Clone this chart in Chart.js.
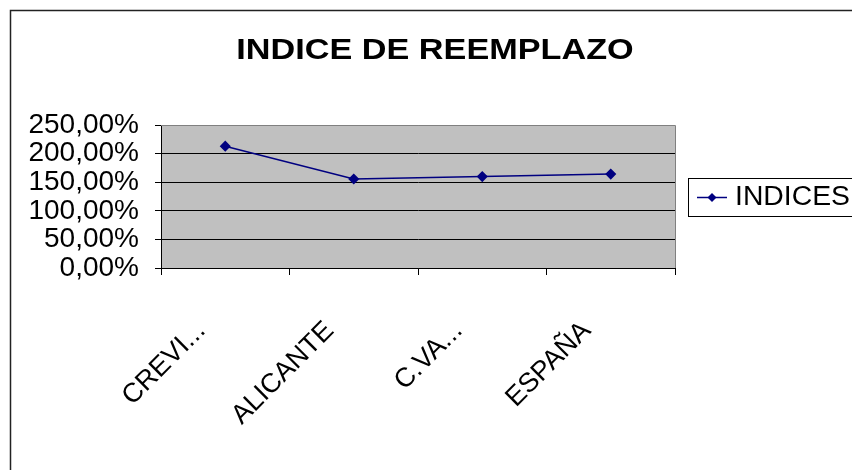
<!DOCTYPE html>
<html><head><meta charset="utf-8">
<script src="https://cdn.jsdelivr.net/npm/chart.js@4"></script>
<style>html,body{margin:0;padding:0;background:#fff}canvas{display:block}</style>
</head><body>
<canvas id="c" width="852" height="470"></canvas>
<script>
const chartTitle = 'INDICE DE REEMPLAZO';
const categories = ['CREVI...', 'ALICANTE', 'C.VA...', 'ESPAÑA'];
const seriesName = 'INDICES';
const indices = [213, 155.5, 159.8, 164.2];
const yTicks = [0, 50, 100, 150, 200, 250];

const FONT = '"Liberation Sans", Arial, sans-serif';
const LINE = '#000080';

const decor = {
  id: 'decor',
  beforeDraw(chart) {
    const {ctx, chartArea: a} = chart;
    ctx.save();
    ctx.fillStyle = '#fff';
    ctx.fillRect(0, 0, chart.width, chart.height);
    ctx.fillStyle = '#C0C0C0';
    ctx.fillRect(a.left, a.top, a.right - a.left, a.bottom - a.top);
    ctx.strokeStyle = '#222';
    ctx.lineWidth = 1.5;
    ctx.beginPath();
    ctx.moveTo(10.5, chart.height + 2);
    ctx.lineTo(10.5, 10.5);
    ctx.lineTo(chart.width + 2, 10.5);
    ctx.stroke();
    ctx.restore();
  },
  beforeDatasetsDraw(chart) {
    const {ctx, chartArea: a} = chart;
    ctx.save();
    ctx.strokeStyle = '#808080';
    ctx.lineWidth = 1;
    ctx.beginPath();
    ctx.moveTo(a.left, Math.round(a.top) + 0.5);
    ctx.lineTo(Math.round(a.right) + 0.5, Math.round(a.top) + 0.5);
    ctx.lineTo(Math.round(a.right) + 0.5, a.bottom);
    ctx.stroke();
    ctx.restore();
  },
  afterDraw(chart) {
    const ctx = chart.ctx;
    // title
    ctx.save();
    ctx.font = 'bold 29px ' + FONT;
    ctx.fillStyle = '#000';
    ctx.textAlign = 'center';
    ctx.textBaseline = 'alphabetic';
    ctx.translate(435, 58.5);
    ctx.scale(1.18, 1);
    ctx.fillText(chartTitle, 0, 0);
    ctx.restore();
    // legend
    const ds = chart.data.datasets[0];
    ctx.save();
    ctx.strokeStyle = '#000';
    ctx.lineWidth = 1;
    ctx.strokeRect(688.5, 178.5, 180, 38);
    ctx.strokeStyle = ds.borderColor;
    ctx.lineWidth = 1.5;
    ctx.beginPath();
    ctx.moveTo(697, 197.5);
    ctx.lineTo(727, 197.5);
    ctx.stroke();
    ctx.fillStyle = ds.borderColor;
    ctx.beginPath();
    ctx.moveTo(712, 193); ctx.lineTo(716.5, 197.5); ctx.lineTo(712, 202); ctx.lineTo(707.5, 197.5);
    ctx.closePath(); ctx.fill();
    ctx.fillStyle = '#000';
    ctx.font = '27px ' + FONT;
    ctx.textBaseline = 'middle';
    ctx.translate(735, 198);
    ctx.scale(1.05, 1);
    ctx.fillText(ds.label, 0, 0);
    ctx.restore();
  }
};

new Chart(document.getElementById('c'), {
  type: 'line',
  data: {
    labels: categories,
    datasets: [{
      label: seriesName,
      data: indices,
      borderColor: LINE,
      backgroundColor: LINE,
      borderWidth: 1.5,
      pointStyle: 'rectRot',
      pointRadius: 4.5,
      pointBackgroundColor: LINE,
      pointBorderColor: LINE,
      tension: 0
    }]
  },
  options: {
    responsive: false,
    animation: false,
    devicePixelRatio: 1,
    layout: {padding: {top: 125, right: 177, bottom: 0, left: 0}},
    plugins: {legend: {display: false}, title: {display: false}, tooltip: {enabled: false}},
    scales: {
      x: {
        offset: true,
        grid: {drawOnChartArea: false, color: '#000', tickColor: '#000', tickLength: 7, offset: true},
        border: {color: '#000', width: 1},
        ticks: {
          autoSkip: false, minRotation: 45, maxRotation: 45, labelOffset: -24, padding: 42,
          color: '#000', font: {family: FONT, size: 27, lineHeight: 1}
        },
        afterFit: s => { s.height = 202; }
      },
      y: {
        min: 0, max: 250,
        grid: {color: c => (c.tick && c.tick.value === 250) ? '#808080' : '#000', tickColor: '#000', tickLength: 6},
        border: {color: '#000', width: 1},
        ticks: {
          autoSkip: false, padding: 16, color: '#000',
          font: {family: FONT, size: 28, lineHeight: 1},
          callback: v => v.toFixed(2).replace('.', ',') + '%'
        },
        afterBuildTicks: s => { s.ticks = yTicks.map(v => ({value: v})); },
        afterFit: s => { s.width = 161; }
      }
    }
  },
  plugins: [decor]
});
</script>
</body></html>
